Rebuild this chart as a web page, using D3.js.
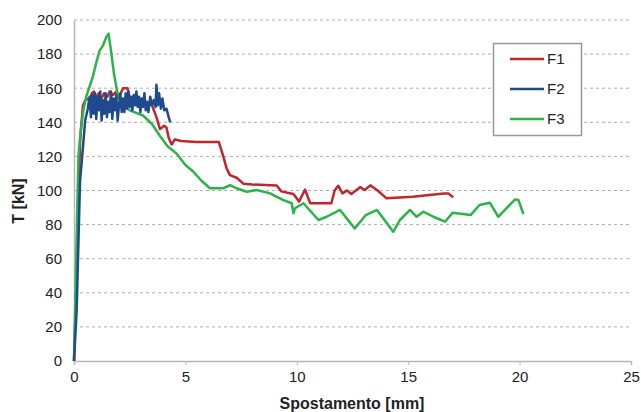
<!DOCTYPE html>
<html><head><meta charset="utf-8">
<script src="https://cdn.jsdelivr.net/npm/d3@7"></script>
<style>body{margin:0;background:#fff}svg{display:block}</style>
</head><body>
<svg id="c" width="641" height="412"></svg>
<script>
const seriesNames = ["F1", "F2", "F3"];
const seriesColors = ["#c0272d", "#1f4b8e", "#2db34a"];
const xTicks = [0, 5, 10, 15, 20, 25];
const yTicks = [0, 20, 40, 60, 80, 100, 120, 140, 160, 180, 200];

const f1 = [[0,0],[0.12,50],[0.2,100],[0.28,130],[0.4,150],[0.55,154],[0.7,153],[0.8,157],[0.9,158],[1.0,154],[1.1,157],[1.2,153],[1.35,157],[1.5,155],[1.6,158],[1.75,156],[1.9,158],[2.0,155],[2.1,157],[2.2,160],[2.4,160],[2.55,152],[2.8,150],[3.0,151],[3.3,151],[3.5,150],[3.7,143],[3.86,136],[4.05,138],[4.15,137],[4.25,131],[4.38,127],[4.53,130],[4.8,129],[5.5,128.5],[6.5,128.5],[6.7,120],[6.85,113],[7.0,109],[7.3,107.5],[7.6,104],[8.0,103.5],[9.1,103],[9.3,99.5],[9.85,98],[10.1,93.5],[10.37,100.5],[10.6,92.5],[11.55,92.5],[11.7,100],[11.86,102.8],[12.05,98.3],[12.25,100],[12.45,98],[12.85,102],[13.05,100.3],[13.3,103],[13.6,100.3],[14.03,95.4],[15.2,96.4],[16.6,98.3],[16.8,98.3],[17.02,96]];

const f2 = [[0,0],[0.12,30],[0.2,70],[0.27,105],[0.4,125],[0.5,141],[0.62,148],[0.7,155],[0.76,143],[0.82,156],[0.88,145],[0.94,157],[1.0,142],[1.06,155],[1.12,147],[1.18,158],[1.24,141],[1.3,153],[1.36,145],[1.42,157],[1.48,143],[1.54,152],[1.6,146],[1.66,158],[1.72,142],[1.78,154],[1.84,147],[1.9,156],[1.96,141],[2.02,150],[2.08,157],[2.14,146],[2.2,154],[2.26,146],[2.32,157],[2.38,148],[2.44,158],[2.5,149],[2.56,155],[2.62,147],[2.68,156],[2.74,150],[2.8,158],[2.86,149],[2.92,155],[2.98,146],[3.04,154],[3.1,149],[3.16,157],[3.22,147],[3.28,152],[3.34,146],[3.42,155],[3.5,150],[3.58,153],[3.66,149],[3.7,162],[3.76,150],[3.82,157],[3.9,148],[3.97,154],[4.05,147],[4.15,148],[4.25,143],[4.32,140]];

const f3 = [[0,0],[0.05,30],[0.1,60],[0.15,90],[0.2,120],[0.3,135],[0.42,147],[0.55,155],[0.7,161],[0.85,167],[1.0,175],[1.15,182],[1.3,185],[1.45,190],[1.55,192],[1.65,183],[1.8,168],[1.98,155],[2.2,150],[2.5,147],[3.1,144],[3.5,139],[3.86,132],[4.2,126],[4.6,121.7],[5.0,115],[5.36,111],[5.7,106],[6.1,101.3],[6.7,101.3],[7.0,103.2],[7.3,101.3],[7.75,99.3],[8.2,100.3],[8.8,98.3],[9.4,94.4],[9.77,92.5],[9.85,86.6],[9.92,89.6],[10.3,92.5],[10.97,82.7],[11.34,84.6],[11.94,88.6],[12.6,77.8],[13.1,85.6],[13.6,88.6],[14.33,75.8],[14.63,82.7],[15.08,88.6],[15.38,84.6],[15.68,87.6],[16.13,84.6],[16.65,81.7],[17.0,87],[17.8,85.6],[18.2,91.5],[18.67,92.8],[19.04,84.6],[19.8,94.8],[19.95,94.4],[20.17,86.2]];

const seriesData = [f1, f2, f3];

const svg = d3.select("#c");
const x = d3.scaleLinear().domain([0, 25]).range([74, 631]);
const y = d3.scaleLinear().domain([0, 200]).range([361, 20]);
const font = "Liberation Sans, Arial, sans-serif";

// gridlines
svg.append("g").selectAll("line").data(yTicks.filter(d => d > 0)).join("line")
  .attr("x1", x(0)).attr("x2", x(25))
  .attr("y1", d => y(d)).attr("y2", d => y(d))
  .attr("stroke", "#b0b0b0").attr("stroke-width", 1).attr("stroke-dasharray", "3,3");

// axes
const xAxis = svg.append("g").attr("transform", `translate(0,${y(0)})`)
  .call(d3.axisBottom(x).tickValues(xTicks).tickSize(4).tickPadding(6));
const yAxis = svg.append("g").attr("transform", `translate(${x(0)},0)`)
  .call(d3.axisLeft(y).tickValues(yTicks).tickSize(0).tickPadding(12));
[xAxis, yAxis].forEach(g => {
  g.select(".domain").attr("stroke", "#b8b8b8").attr("stroke-width", 1.5);
  g.selectAll(".tick line").attr("stroke", "#b8b8b8");
  g.selectAll("text").attr("font-family", font).attr("font-size", 15).attr("fill", "#222");
});

// lines
const line = d3.line().x(d => x(d[0])).y(d => y(d[1]));
const order = [0, 2, 1];
order.forEach(i => {
  svg.append("path").datum(seriesData[i])
    .attr("d", line).attr("fill", "none")
    .attr("stroke", seriesColors[i]).attr("stroke-width", 2.5)
    .attr("stroke-linejoin", "round");
});

// legend
const lg = svg.append("g");
lg.append("rect").attr("x", 493.5).attr("y", 43.5).attr("width", 88).attr("height", 92)
  .attr("fill", "#fff").attr("stroke", "#999").attr("stroke-width", 1.5);
seriesNames.forEach((n, i) => {
  const yy = 59 + i * 30;
  lg.append("line").attr("x1", 510).attr("x2", 544).attr("y1", yy).attr("y2", yy)
    .attr("stroke", seriesColors[i]).attr("stroke-width", 2.5);
  lg.append("text").attr("x", 547).attr("y", yy).attr("dy", "0.35em")
    .attr("font-family", font).attr("font-size", 15).attr("fill", "#222").text(n);
});

// axis titles
svg.append("text").attr("x", 352).attr("y", 409).attr("text-anchor", "middle")
  .attr("font-family", font).attr("font-weight", "bold").attr("font-size", 16).attr("fill", "#222")
  .text("Spostamento [mm]");
svg.append("text").attr("transform", "translate(24,201) rotate(-90)").attr("text-anchor", "middle")
  .attr("font-family", font).attr("font-weight", "bold").attr("font-size", 16).attr("fill", "#222")
  .text("T [kN]");
</script>
</body></html>
